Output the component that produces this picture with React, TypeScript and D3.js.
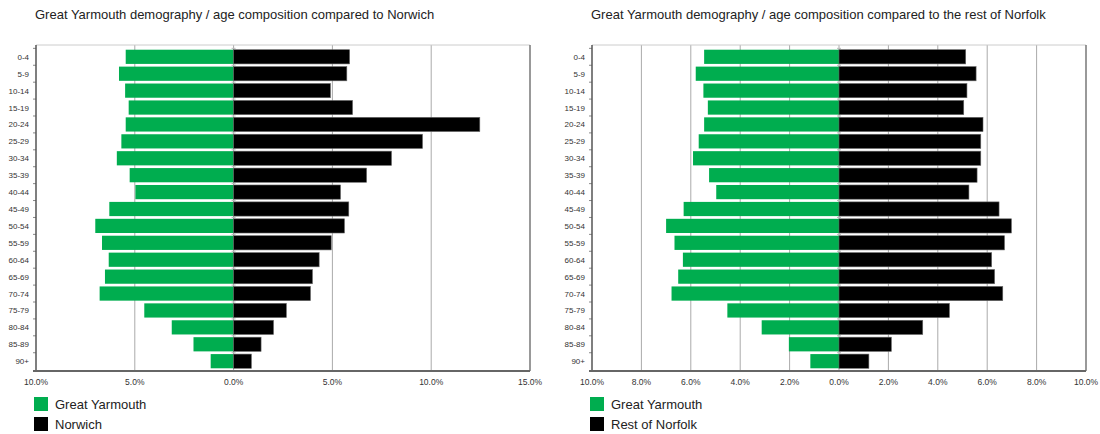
import React, { useEffect, useRef } from 'react';
import * as d3 from 'd3';

const ageGroups = ['0-4', '5-9', '10-14', '15-19', '20-24', '25-29', '30-34', '35-39', '40-44', '45-49',
  '50-54', '55-59', '60-64', '65-69', '70-74', '75-79', '80-84', '85-89', '90+'];

const greatYarmouth = [5.46, 5.8, 5.49, 5.31, 5.46, 5.68, 5.91, 5.26, 4.97, 6.29,
  7.0, 6.66, 6.32, 6.51, 6.78, 4.52, 3.13, 2.03, 1.16];

const norwich = [5.87, 5.73, 4.9, 6.02, 12.46, 9.56, 7.99, 6.73, 5.41, 5.83,
  5.61, 4.94, 4.33, 3.99, 3.89, 2.67, 2.02, 1.39, 0.9];

const restOfNorfolk = [5.13, 5.55, 5.18, 5.05, 5.83, 5.74, 5.74, 5.59, 5.26, 6.48,
  6.98, 6.7, 6.18, 6.3, 6.63, 4.47, 3.39, 2.12, 1.21];

const leftTicks = [-10, -5, 0, 5, 10, 15];
const rightTicks = [-10, -8, -6, -4, -2, 0, 2, 4, 6, 8, 10];

const GREEN = '#00ad4f';
const FONT = '"Liberation Sans", Arial, sans-serif';

function drawPyramid(svg, opts) {
  const { x0, x1, domain, ticks, other, otherName, title } = opts;
  const top = 45, bottom = 371;
  const g = svg.append('g');

  const x = d3.scaleLinear().domain(domain).range([x0, x1]);
  const y = d3.scaleBand().domain(ageGroups).range([top + 2, bottom]).padding(0.16);

  g.append('text')
    .attr('x', x0 - 1)
    .attr('y', 19)
    .attr('font-family', FONT)
    .attr('font-size', 13)
    .attr('fill', '#222')
    .text(title);

  // gridlines
  g.selectAll('.grid')
    .data(ticks.slice(1, -1))
    .join('line')
    .attr('x1', d => x(d)).attr('x2', d => x(d))
    .attr('y1', top).attr('y2', bottom)
    .attr('stroke', '#aaa')
    .attr('stroke-width', 1);

  // top + right border
  g.append('line')
    .attr('x1', x0).attr('x2', x1).attr('y1', top).attr('y2', top)
    .attr('stroke', '#ccc');
  g.append('line')
    .attr('x1', x1).attr('x2', x1).attr('y1', top).attr('y2', bottom)
    .attr('stroke', '#777').attr('stroke-width', 1.5);

  // small ticks at band edges
  const edges = ageGroups.map(a => y(a) - y.step() * y.paddingInner() / 2).concat([bottom]);
  g.selectAll('.ytick')
    .data(edges)
    .join('line')
    .attr('x1', x0 - 3).attr('x2', x0)
    .attr('y1', d => d).attr('y2', d => d)
    .attr('stroke', '#888');
  g.selectAll('.ztick')
    .data(edges)
    .join('line')
    .attr('x1', x(0) - 2).attr('x2', x(0) + 2)
    .attr('y1', d => d).attr('y2', d => d)
    .attr('stroke', '#bbb');

  g.selectAll('.gy')
    .data(greatYarmouth)
    .join('rect')
    .attr('x', d => x(-d))
    .attr('y', (d, i) => y(ageGroups[i]))
    .attr('width', d => x(0) - x(-d))
    .attr('height', y.bandwidth())
    .attr('fill', GREEN);

  g.selectAll('.other')
    .data(other)
    .join('rect')
    .attr('x', x(0))
    .attr('y', (d, i) => y(ageGroups[i]))
    .attr('width', d => x(d) - x(0))
    .attr('height', y.bandwidth())
    .attr('fill', '#000')
    .attr('stroke', '#666')
    .attr('stroke-width', 0.6);

  // axes
  g.append('line')
    .attr('x1', x0).attr('x2', x0).attr('y1', top).attr('y2', bottom)
    .attr('stroke', '#555').attr('stroke-width', 1.5);
  g.append('line')
    .attr('x1', x0 - 3).attr('x2', x1).attr('y1', bottom).attr('y2', bottom)
    .attr('stroke', '#666').attr('stroke-width', 2);

  g.selectAll('.ylab')
    .data(ageGroups)
    .join('text')
    .attr('x', x0 - 7)
    .attr('y', d => y(d) + y.bandwidth() / 2 + 3)
    .attr('text-anchor', 'end')
    .attr('font-family', FONT)
    .attr('font-size', 8)
    .attr('fill', '#333')
    .text(d => d);

  g.selectAll('.xlab')
    .data(ticks)
    .join('text')
    .attr('x', d => x(d))
    .attr('y', 385)
    .attr('text-anchor', 'middle')
    .attr('font-family', FONT)
    .attr('font-size', 8.5)
    .attr('fill', '#333')
    .text(d => Math.abs(d).toFixed(1) + '%');

  // legend
  const legend = [{ name: 'Great Yarmouth', color: GREEN }, { name: otherName, color: '#000' }];
  const lg = g.selectAll('.leg').data(legend).join('g')
    .attr('transform', (d, i) => `translate(${x0 - 2},${397 + i * 20})`);
  lg.append('rect').attr('width', 14).attr('height', 14).attr('fill', d => d.color);
  lg.append('text')
    .attr('x', 21).attr('y', 12)
    .attr('font-family', FONT)
    .attr('font-size', 13)
    .attr('fill', '#222')
    .text(d => d.name);
}

export default function App() {
  const ref = useRef(null);

  useEffect(() => {
    const svg = d3.select(ref.current);
    svg.selectAll('*').remove();
    drawPyramid(svg, {
      x0: 36, x1: 530, domain: [-10, 15], ticks: leftTicks,
      other: norwich, otherName: 'Norwich',
      title: 'Great Yarmouth demography / age composition compared to Norwich'
    });
    drawPyramid(svg, {
      x0: 592, x1: 1086, domain: [-10, 10], ticks: rightTicks,
      other: restOfNorfolk, otherName: 'Rest of Norfolk',
      title: 'Great Yarmouth demography / age composition compared to the rest of Norfolk'
    });
  }, []);

  return (
    <svg ref={ref} width={1100} height={434}
      style={{ position: 'absolute', left: 0, top: 0, background: '#fff' }} />
  );
}
